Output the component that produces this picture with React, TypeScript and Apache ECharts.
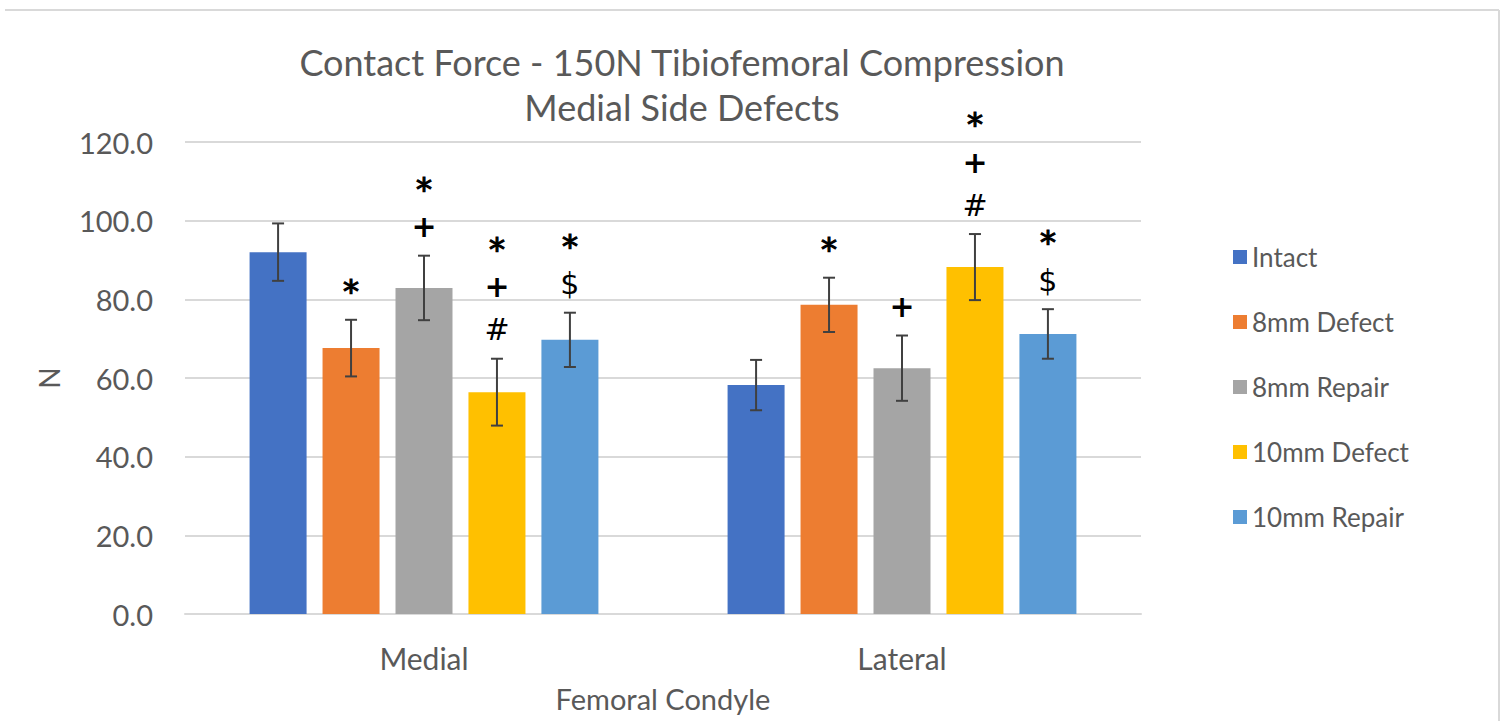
import React, { useEffect, useRef } from "react";
import * as echarts from "echarts";

const categories = ["Medial", "Lateral"];
const seriesNames = ["Intact", "8mm Defect", "8mm Repair", "10mm Defect", "10mm Repair"];
const colors = ["#4472C4", "#ED7D31", "#A5A5A5", "#FFC000", "#5B9BD5"];
const intact = [92.0, 58.2];
const defect8 = [67.6, 78.6];
const repair8 = [82.9, 62.5];
const defect10 = [56.4, 88.2];
const repair10 = [69.7, 71.2];
const intactErr = [7.3, 6.4];
const defect8Err = [7.2, 6.9];
const repair8Err = [8.2, 8.3];
const defect10Err = [8.5, 8.4];
const repair10Err = [6.9, 6.3];
const intactMarks = ["", ""];
const defect8Marks = ["*", "*"];
const repair8Marks = ["*\n+", "+"];
const defect10Marks = ["*\n+\n#", "*\n+\n#"];
const repair10Marks = ["*\n$", "*\n$"];
const yTicks = [0, 20, 40, 60, 80, 100, 120];

const values = [intact, defect8, repair8, defect10, repair10];
const errs = [intactErr, defect8Err, repair8Err, defect10Err, repair10Err];
const marks = [intactMarks, defect8Marks, repair8Marks, defect10Marks, repair10Marks];

const BAR_W = 57;
const GAP_PCT = 0.28;
const FONT = "Lato, 'Open Sans', sans-serif";
const MARK_FONT = "'DejaVu Sans', sans-serif";

export default function App() {
  const ref = useRef<HTMLDivElement>(null);
  useEffect(() => {
    if (!ref.current) return;
    const chart = echarts.init(ref.current, undefined, { renderer: "svg" });
    const step = BAR_W * (1 + GAP_PCT);
    const bars = seriesNames.map((name, i) => ({
      name,
      type: "bar",
      data: values[i],
      barWidth: BAR_W,
      barGap: GAP_PCT * 100 + "%",
      itemStyle: { color: colors[i] },
      z: 2,
    }));
    const errSeries = seriesNames.map((name, i) => ({
      name: "err_" + name,
      type: "custom",
      z: 5,
      data: categories.map((c, k) => [k, values[i][k] - errs[i][k], values[i][k] + errs[i][k]]),
      encode: { x: 0, y: [1, 2] },
      renderItem: (params: any, api: any) => {
        const k = api.value(0);
        const lo = api.coord([k, api.value(1)]);
        const hi = api.coord([k, api.value(2)]);
        const x = lo[0] + (i - 2) * step;
        const cap = 6;
        const st = { stroke: "#404040", lineWidth: 2 };
        const children: any[] = [
          { type: "line", shape: { x1: x, y1: lo[1], x2: x, y2: hi[1] }, style: st },
          { type: "line", shape: { x1: x - cap, y1: lo[1], x2: x + cap, y2: lo[1] }, style: st },
          { type: "line", shape: { x1: x - cap, y1: hi[1], x2: x + cap, y2: hi[1] }, style: st },
        ];
        const syms = marks[i][k] ? marks[i][k].split("\n") : [];
        let cy = hi[1] - 29;
        for (let j = syms.length - 1; j >= 0; j--) {
          const s = syms[j];
          const isStar = s === "*";
          children.push({
            type: "text",
            style: {
              text: s,
              x,
              y: cy,
              align: "center",
              verticalAlign: "middle",
              fontFamily: MARK_FONT,
              fontSize: isStar ? 32 : 30,
              fontWeight: s === "+" ? "bold" : "normal",
              fill: "#000000",
              stroke: isStar ? "#000000" : undefined,
              lineWidth: isStar ? 1.2 : 0,
            },
          });
          if (j > 0) cy -= syms[j - 1] === "*" ? 38 : 43;
        }
        return { type: "group", children };
      },
    }));
    chart.setOption({
      animation: false,
      backgroundColor: "#ffffff",
      grid: { left: 185, right: 366, top: 142, bottom: 107, outerBoundsMode: "none", containLabel: false },
      legend: {
        data: seriesNames,
        orient: "vertical",
        left: 1228,
        top: 239,
        itemWidth: 14,
        itemHeight: 14,
        itemGap: 39,
        icon: "rect",
        textStyle: { fontSize: 26, color: "#595959", fontFamily: FONT, lineHeight: 26 },
      },
      xAxis: {
        type: "category",
        data: categories,
        name: "Femoral Condyle",
        nameLocation: "middle",
        nameGap: 70,
        nameTextStyle: { fontSize: 29, color: "#595959", fontFamily: FONT },
        axisLine: { lineStyle: { color: "#d9d9d9", width: 2 } },
        axisTick: { show: false },
        axisLabel: { fontSize: 30, color: "#595959", fontFamily: FONT, margin: 29 },
      },
      yAxis: {
        type: "value",
        min: 0,
        max: 120,
        interval: 20,
        name: "N",
        nameLocation: "middle",
        nameGap: 122,
        nameRotate: 90,
        nameTextStyle: { fontSize: 28, color: "#595959", fontFamily: FONT },
        axisLine: { show: false },
        axisTick: { show: false },
        splitLine: { lineStyle: { color: "#d9d9d9", width: 2 } },
        axisLabel: {
          fontSize: 29,
          color: "#595959",
          fontFamily: FONT,
          margin: 32,
          customValues: yTicks,
          formatter: (v: number) => v.toFixed(1),
        },
      },
      graphic: [
        {
          type: "text",
          x: 682,
          y: 84,
          style: {
            text: "Contact Force - 150N Tibiofemoral Compression\nMedial Side Defects",
            align: "center",
            verticalAlign: "middle",
            fontSize: 36,
            lineHeight: 45,
            fontFamily: FONT,
            fill: "#595959",
          },
        },
        { type: "line", shape: { x1: 5, y1: 10, x2: 1499, y2: 10 }, style: { stroke: "#d9d9d9", lineWidth: 2 } },
        { type: "line", shape: { x1: 1499, y1: 10, x2: 1499, y2: 721 }, style: { stroke: "#d9d9d9", lineWidth: 2 } },
      ],
      series: [...bars, ...errSeries],
    });
    return () => chart.dispose();
  }, []);
  return (
    <div
      ref={ref}
      style={{ position: "fixed", left: 0, top: 0, width: 1507, height: 721 }}
    />
  );
}
